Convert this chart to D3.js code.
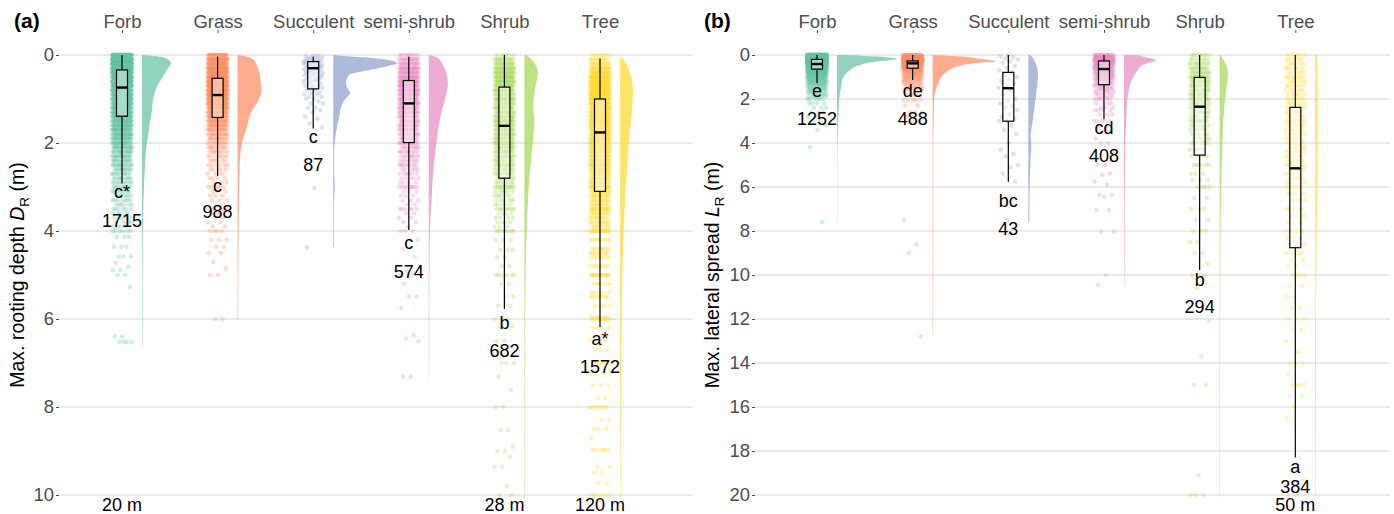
<!DOCTYPE html>
<html>
<head>
<meta charset="utf-8">
<script src="https://cdn.jsdelivr.net/npm/d3@7"></script>
<style>
  body { margin: 0; background: #fff; }
  svg { display: block; }
  text { font-family: "Liberation Sans", Arial, sans-serif; }
</style>
</head>
<body>
<svg id="chart" width="1394" height="514"></svg>
<script>
      const categories = ["Forb", "Grass", "Succulent", "semi-shrub", "Shrub", "Tree"];
      const groupColors = ["#66c2a5", "#fc8d62", "#8da0cb", "#e78ac3", "#a6d854", "#ffd92f"];

      // ---- panel (a): max. rooting depth (m) ----
      const depthTicks = [0, 2, 4, 6, 8, 10];
      // [lower whisker, q1, median, q3, upper whisker]
      const depthBoxes = [
        [0, 0.34, 0.74, 1.39, 2.92],
        [0.04, 0.53, 0.91, 1.42, 2.75],
        [0.04, 0.15, 0.30, 0.77, 1.67],
        [0.04, 0.58, 1.10, 1.99, 3.98],
        [0, 0.73, 1.61, 2.80, 5.77],
        [0.08, 1.00, 1.76, 3.10, 6.18]
      ];
      const depthLetters = ["c*", "c", "c", "c", "b", "a*"];
      const depthCounts = ["1715", "988", "87", "574", "682", "1572"];
      const depthLetterAt = [3.25, 3.11, 1.99, 4.42, 6.23, 6.59];
      const depthCountAt = [3.91, 3.71, 2.63, 5.07, 6.86, 7.23];
      const depthMaxima = ["20 m", "", "", "", "28 m", "120 m"];

      // observations as [depth, number of records]
      const depthPtsForb = [[0,80],[0.1,130],[0.2,140],[0.3,130],[0.4,115],[0.5,100],[0.6,88],[0.7,75],[0.8,65],[0.9,58],[1,54],[1.1,50],[1.2,49],[1.3,46],[1.4,43],[1.5,40],[1.6,37],[1.7,34],[1.8,31],[1.9,28],[2,25],[2.1,21],[2.2,19],[2.3,17],[2.4,15],[2.5,15],[2.6,12],[2.7,11],[2.8,10],[2.9,9],[3,10],[3.1,8],[3.2,7],[3.3,7],[3.4,6],[3.5,6],[3.6,5],[3.7,5],[3.8,4],[3.9,4],[4,6],[4.13,3],[4.36,3],[4.58,3],[4.73,1],[4.81,1],[4.89,2],[5,2],[5.27,1],[6.4,2],[6.52,4]];
      const depthPtsGrass = [[0,30],[0.1,43],[0.2,48],[0.3,54],[0.4,56],[0.5,59],[0.6,62],[0.7,64],[0.8,64],[0.9,62],[1,56],[1.1,48],[1.2,40],[1.3,35],[1.4,31],[1.5,28],[1.6,25],[1.7,21],[1.8,17],[1.9,15],[2,12],[2.1,10],[2.2,9],[2.3,7],[2.4,6],[2.5,6],[2.6,5],[2.7,4],[2.8,4],[2.9,3],[3,6],[3.1,3],[3.2,3],[3.3,3],[3.4,2],[3.5,4],[3.6,2],[3.7,2],[3.8,2],[3.9,2],[4,4],[4.2,3],[4.36,2],[4.5,2],[4.7,1],[4.85,1],[5,2],[6,2]];
      const depthPtsSucculent = [[0.02,3],[0.05,3],[0.08,3],[0.12,3],[0.15,4],[0.18,3],[0.22,4],[0.25,3],[0.28,3],[0.32,3],[0.35,3],[0.38,3],[0.42,3],[0.46,3],[0.5,3],[0.55,3],[0.6,3],[0.65,2],[0.7,3],[0.75,2],[0.8,2],[0.85,2],[0.9,2],[0.95,2],[1,2],[1.05,1],[1.1,2],[1.2,2],[1.25,1],[1.3,1],[1.4,1],[1.45,1],[1.55,1],[1.65,1],[3.03,1],[4.37,1]];
      const depthPtsSemiShrub = [[0,10],[0.1,17],[0.2,21],[0.3,25],[0.4,28],[0.5,29],[0.6,30],[0.7,30],[0.8,29],[0.9,27],[1,25],[1.1,23],[1.2,22],[1.3,20],[1.4,18],[1.5,17],[1.6,16],[1.7,15],[1.8,14],[1.9,12],[2,15],[2.1,10],[2.2,10],[2.3,9],[2.4,8],[2.5,9],[2.6,6],[2.7,6],[2.8,5],[2.9,4],[3,9],[3.1,3],[3.2,3],[3.3,3],[3.4,2],[3.5,6],[3.6,2],[3.7,2],[3.8,2],[3.9,1],[4,3],[4.2,2],[4.4,1],[4.58,1],[4.9,1],[5,2],[5.2,1],[5.49,2],[5.75,1],[6.36,1],[6.45,1],[6.5,1],[7.31,2]];
      const depthPtsShrub = [[0,6],[0.1,14],[0.2,18],[0.3,22],[0.4,26],[0.5,27],[0.6,25],[0.7,22],[0.8,20],[0.9,18],[1,24],[1.1,17],[1.2,17],[1.3,18],[1.4,19],[1.5,22],[1.6,19],[1.7,18],[1.8,18],[1.9,17],[2,22],[2.1,15],[2.2,14],[2.3,13],[2.4,12],[2.5,15],[2.6,10],[2.7,10],[2.8,9],[2.9,8],[3,14],[3.1,6],[3.2,6],[3.3,6],[3.4,5],[3.5,8],[3.6,4],[3.7,4],[3.8,4],[3.9,3],[4,8],[4.2,3],[4.43,3],[4.6,2],[4.8,2],[5,6],[5.2,2],[5.49,2],[5.7,2],[6,3],[6.17,2],[6.5,2],[6.63,1],[7,3],[7.31,1],[7.61,1],[8,2],[8.52,2],[8.9,1],[9,2],[9.13,1],[9.36,2],[9.8,1],[10,2]];
      const depthPtsTree = [[0,8],[0.1,12],[0.2,18],[0.3,25],[0.4,34],[0.5,50],[0.6,42],[0.7,46],[0.8,48],[0.9,47],[1,60],[1.1,45],[1.2,44],[1.3,42],[1.4,40],[1.5,48],[1.6,37],[1.7,35],[1.8,34],[1.9,32],[2,42],[2.1,29],[2.2,28],[2.3,27],[2.4,25],[2.5,32],[2.6,23],[2.7,22],[2.8,20],[2.9,19],[3,30],[3.1,17],[3.2,16],[3.3,15],[3.4,14],[3.5,20],[3.6,13],[3.7,12],[3.8,12],[3.9,11],[4,20],[4.2,10],[4.4,9],[4.5,10],[4.6,8],[4.8,8],[5,18],[5.2,6],[5.4,6],[5.5,8],[5.7,5],[5.95,5],[6,12],[6.2,4],[6.48,4],[6.7,3],[7,8],[7.23,3],[7.5,3],[7.8,2],[8,8],[8.3,2],[8.5,3],[8.7,1],[8.98,6],[9.36,2],[9.5,2],[9.73,2],[10,6]];

      // half-violin outlines as [depth, relative density]
      const depthDensForb = [[0,0],[0.02,1.2],[0.05,2.1],[0.12,2.7],[0.19,2.9],[0.3,2.6],[0.49,2.1],[0.72,1.5],[1.02,1.1],[1.25,1.0],[1.48,0.83],[1.78,0.65],[2.16,0.4],[2.5,0.3],[3.3,0.15],[4,0.08],[5,0.06],[6,0.05],[6.6,0.04],[6.62,0]];
      const depthDensGrass = [[0,0],[0.03,0.8],[0.11,1.6],[0.34,2.1],[0.6,2.3],[0.8,2.4],[1.02,2.1],[1.32,1.3],[1.63,0.94],[2,0.44],[2.54,0.2],[3.3,0.15],[4,0.1],[5,0.07],[6,0.05],[6.02,0]];
      const depthDensSucculent = [[0,0],[0.02,1.0],[0.04,2.4],[0.11,5.4],[0.19,6.4],[0.27,5.1],[0.34,3.6],[0.45,1.6],[0.64,1.27],[0.78,1.5],[0.87,1.7],[0.95,1.4],[1.1,0.93],[1.4,0.6],[1.78,0.27],[2.16,0.1],[2.6,0.08],[3,0.15],[3.4,0.06],[4,0.06],[4.35,0.08],[4.37,0]];
      const depthDensSemiShrub = [[0,0],[0.03,0.5],[0.05,0.8],[0.19,1.3],[0.42,1.77],[0.64,1.9],[0.87,1.77],[1.17,1.43],[1.48,1.1],[1.78,0.9],[2.16,0.67],[2.69,0.43],[3.3,0.27],[4.05,0.1],[5,0.06],[6,0.05],[7.35,0.03],[7.37,0]];
      const depthDensShrub = [[0,0.2],[0.11,0.77],[0.42,1.37],[0.72,1.1],[1.17,0.87],[1.48,1.0],[1.78,0.93],[2.16,0.77],[2.69,0.53],[3.45,0.33],[4.2,0.2],[5.34,0.1],[7,0.06],[10.5,0.04]];
      const depthDensTree = [[0.05,0],[0.08,0.23],[0.42,1.0],[0.8,1.3],[1.17,1.23],[1.93,0.9],[2.69,0.67],[3.45,0.47],[4.2,0.33],[4.96,0.23],[5.72,0.17],[7.23,0.1],[10.5,0.05]];

      // ---- panel (b): max. lateral spread (m) ----
      const spreadTicks = [0, 2, 4, 6, 8, 10, 12, 14, 16, 18, 20];
      const spreadBoxes = [
        [0, 0.20, 0.41, 0.64, 1.28],
        [0, 0.27, 0.38, 0.60, 1.14],
        [0, 0.79, 1.51, 3.01, 5.76],
        [0, 0.27, 0.64, 1.35, 2.92],
        [0, 1.02, 2.35, 4.55, 9.77],
        [0, 2.38, 5.15, 8.76, 18.3]
      ];
      const spreadLetters = ["e", "de", "bc", "cd", "b", "a"];
      const spreadCounts = ["1252", "488", "43", "408", "294", "384"];
      const spreadLetterAt = [1.92, 1.92, 6.89, 3.59, 10.5, 19.0];
      const spreadCountAt = [3.18, 3.18, 8.18, 4.85, 11.74, 19.92];
      const spreadMaxima = ["", "", "", "", "", "50 m"];

      const spreadPtsForb = [[0,130],[0.1,175],[0.2,175],[0.3,130],[0.4,90],[0.5,65],[0.6,50],[0.7,40],[0.8,32],[0.9,26],[1,25],[1.1,18],[1.2,16],[1.3,14],[1.4,12],[1.5,10],[1.6,8],[1.7,7],[1.8,6],[1.9,5],[2,6],[2.2,4],[2.4,3],[2.6,3],[2.8,2],[3,2],[3.2,1],[3.4,1],[4.2,1],[7.6,1]];
      const spreadPtsGrass = [[0,28],[0.1,60],[0.2,75],[0.3,80],[0.4,50],[0.5,36],[0.6,25],[0.7,20],[0.8,16],[0.9,14],[1,13],[1.1,10],[1.2,8],[1.3,7],[1.4,6],[1.5,6],[1.6,4],[1.8,4],[2.05,5],[2.3,2],[2.6,3],[2.8,1],[3,2],[7.5,1],[8.6,1],[9,1],[12.8,1]];
      const spreadPtsSucculent = [[0,1],[0.05,1],[0.1,1],[0.15,1],[0.2,1],[0.3,1],[0.35,1],[0.5,1],[0.6,1],[0.7,1],[0.8,1],[0.9,1],[1,1],[1.1,1],[1.2,1],[1.3,1],[1.4,1],[1.5,1],[1.6,1],[1.8,1],[2,1],[2.1,1],[2.2,1],[2.3,1],[2.4,1],[2.5,1],[2.7,1],[2.8,1],[2.9,1],[3,2],[3.2,1],[3.4,1],[3.6,1],[4,1],[4.3,1],[4.5,1],[4.6,1],[5,1],[5.1,1],[5.4,1],[5.76,1],[7.5,1]];
      const spreadPtsSemiShrub = [[0,20],[0.1,31],[0.2,35],[0.3,30],[0.4,23],[0.5,19],[0.6,17],[0.7,14],[0.8,13],[0.9,11],[1,12],[1.1,9],[1.2,8],[1.3,7],[1.4,7],[1.5,7],[1.6,5],[1.7,5],[1.8,4],[1.9,4],[2,6],[2.2,4],[2.4,3],[2.5,4],[2.7,3],[3,5],[3.3,2],[3.5,2],[3.8,1],[4,2],[4.5,1],[5,2],[5.38,1],[5.45,1],[5.76,1],[5.9,1],[6.36,2],[6.44,1],[7.05,2],[8.03,2],[10,1],[10.45,1]];
      const spreadPtsShrub = [[0,8],[0.2,8],[0.4,10],[0.6,12],[0.8,13],[1,16],[1.2,12],[1.4,12],[1.6,11],[1.8,11],[2,13],[2.2,9],[2.4,8],[2.6,7],[2.8,7],[3,9],[3.2,6],[3.4,5],[3.6,5],[3.8,5],[4,7],[4.3,4],[4.6,4],[5,6],[5.4,3],[5.7,3],[6,4],[6.5,2],[7,3],[7.5,2],[8,3],[8.5,2],[9,2],[9.5,1],[10,3],[10.6,1],[12.1,1],[13.7,1],[15,2],[19.1,1],[20,3]];
      const spreadPtsTree = [[0,6],[0.2,5],[0.4,6],[0.6,6],[0.8,6],[1,8],[1.2,6],[1.4,6],[1.6,6],[1.8,6],[2,8],[2.2,6],[2.4,6],[2.6,6],[2.8,5],[3,8],[3.2,5],[3.4,5],[3.6,5],[3.8,5],[4,7],[4.2,5],[4.4,5],[4.6,5],[4.8,5],[5,7],[5.2,4],[5.4,4],[5.6,4],[5.8,4],[6,6],[6.3,4],[6.6,4],[7,5],[7.3,3],[7.6,3],[8,5],[8.3,3],[8.6,3],[9,4],[9.3,2],[9.6,2],[10,4],[10.5,2],[11,2],[11.5,2],[12,3],[12.5,2],[13,1],[13.5,1],[14,3],[14.5,1],[15,4],[15.5,2],[16,1],[16.5,1],[18.3,1],[18.9,1],[19.3,1],[20,2]];

      const spreadDensForb = [[0,0],[0.01,1.5],[0.05,3.0],[0.1,5.0],[0.18,6.0],[0.22,5.6],[0.3,4.0],[0.45,2.3],[0.68,1.3],[0.9,0.8],[1.14,0.5],[1.44,0.43],[1.7,0.3],[2.2,0.2],[3,0.12],[3.5,0.08],[4.5,0.03],[7.6,0.02],[7.62,0]];
      const spreadDensGrass = [[0,0],[0.01,0.4],[0.07,3.0],[0.15,4.3],[0.3,6.4],[0.34,5.0],[0.41,3.6],[0.53,2.4],[0.76,1.4],[0.98,0.9],[1.3,0.57],[1.6,0.3],[2.05,0.13],[3.1,0.1],[4,0.05],[7.5,0.05],[12.8,0.03],[12.82,0]];
      const spreadDensSucculent = [[0,0],[0.02,0.23],[0.38,0.73],[0.83,0.97],[1.6,0.83],[2.35,0.63],[3.1,0.4],[3.7,0.23],[4.17,0.3],[4.62,0.23],[5.38,0.17],[6.14,0.13],[7.58,0.1],[7.6,0]];
      const spreadDensSemiShrub = [[0,0],[0.01,1.6],[0.07,1.9],[0.23,3.2],[0.45,1.9],[0.76,1.27],[1.14,0.77],[1.74,0.43],[2.5,0.27],[3.56,0.17],[5.08,0.1],[7,0.07],[10.45,0.04],[10.47,0]];
      const spreadDensShrub = [[0,0.07],[0.38,0.57],[0.83,0.83],[1.6,0.67],[2.35,0.47],[3.26,0.33],[4.3,0.27],[5.7,0.17],[7.65,0.1],[11.4,0.05],[20.5,0.03]];
      const spreadDensTree = [[0,0.17],[1.6,0.23],[3.9,0.23],[6.9,0.17],[9.9,0.1],[14.5,0.07],[20.5,0.05]];

      const svg = d3.select("#chart");
      const TOP = 55, BOTTOM = 495;

      function jitter(k) {
        return (((k * 0.6180339887 + 0.5) % 1) - 0.5) * 20;
      }

      function drawPanel(cfg) {
        const root = svg.append("g");
        const y = d3.scaleLinear().domain([0, cfg.max]).range([TOP, BOTTOM]);
        const x = d3.scalePoint().domain(categories).range(cfg.xRange);
        const dens = d3.scaleLinear().domain([0, 1]).range([0, 10]);
        const clipId = `clip-${cfg.id}`;

        root.append("clipPath").attr("id", clipId)
          .append("rect").attr("x", cfg.left).attr("y", 33)
          .attr("width", cfg.right - cfg.left).attr("height", BOTTOM + 3 - 33);

        root.append("g").selectAll("line")
          .data(cfg.ticks)
          .join("line")
          .attr("x1", cfg.left).attr("x2", cfg.right)
          .attr("y1", (d) => y(d)).attr("y2", (d) => y(d))
          .attr("stroke", "#d6d6d6").attr("stroke-width", 1);

        const yAxis = root.append("g")
          .attr("transform", `translate(${cfg.left},0)`)
          .call(d3.axisLeft(y).tickValues(cfg.ticks).tickSize(3).tickPadding(2));
        yAxis.select(".domain").remove();
        yAxis.selectAll("line").attr("stroke", "#4d4d4d");
        yAxis.selectAll("text").attr("fill", "#4d4d4d").style("font-size", "18.5px")
          .style("font-family", "'Liberation Sans', Arial, sans-serif");

        const xAxis = root.append("g")
          .attr("transform", "translate(0,33)")
          .call(d3.axisTop(x).tickSize(3).tickPadding(2));
        xAxis.select(".domain").remove();
        xAxis.selectAll("line").attr("stroke", "#4d4d4d");
        xAxis.selectAll("text").attr("fill", "#4d4d4d").style("font-size", "18.5px")
          .style("font-family", "'Liberation Sans', Arial, sans-serif");

        const plot = root.append("g").attr("clip-path", `url(#${clipId})`);

        // jittered observations
        const points = [];
        cfg.points.forEach((list, gi) => {
          let k = 0;
          list.forEach(([depth, n]) => {
            for (let i = 0; i < n; i += 1, k += 1) points.push({ gi, depth, k });
          });
        });
        plot.append("g").selectAll("circle")
          .data(points)
          .join("circle")
          .attr("cx", (p) => x(categories[p.gi]) + jitter(p.k))
          .attr("cy", (p) => y(p.depth))
          .attr("r", 2.3)
          .attr("fill", (p) => groupColors[p.gi])
          .attr("fill-opacity", 0.3);

        // half violins
        const area = d3.area()
          .curve(d3.curveMonotoneY)
          .y((d) => y(d[0]))
          .x0(0)
          .x1((d) => dens(d[1]));
        plot.append("g").selectAll("path")
          .data(cfg.densities)
          .join("path")
          .attr("transform", (d, i) => `translate(${x(categories[i]) + 20},0)`)
          .attr("d", (d) => area(d))
          .attr("fill", (d, i) => groupColors[i])
          .attr("fill-opacity", 0.72);

        // box plots
        const boxes = plot.append("g").selectAll("g")
          .data(cfg.boxes)
          .join("g")
          .attr("transform", (d, i) => `translate(${x(categories[i])},0)`);
        boxes.append("line").attr("x1", 0).attr("x2", 0)
          .attr("y1", (b) => y(b[0])).attr("y2", (b) => y(b[1]))
          .attr("stroke", "#000").attr("stroke-width", 1.2);
        boxes.append("line").attr("x1", 0).attr("x2", 0)
          .attr("y1", (b) => y(b[3])).attr("y2", (b) => y(b[4]))
          .attr("stroke", "#000").attr("stroke-width", 1.2);
        boxes.append("rect")
          .attr("x", -5.5).attr("width", 11)
          .attr("y", (b) => y(b[1])).attr("height", (b) => y(b[3]) - y(b[1]))
          .attr("fill", "#fff").attr("fill-opacity", 0.4)
          .attr("stroke", "#000").attr("stroke-width", 1.2);
        boxes.append("line").attr("x1", -5.5).attr("x2", 5.5)
          .attr("y1", (b) => y(b[2])).attr("y2", (b) => y(b[2]))
          .attr("stroke", "#000").attr("stroke-width", 2.4);

        // letters and sample sizes
        const notes = root.append("g")
          .attr("text-anchor", "middle")
          .style("font-size", "18px")
          .attr("fill", "#000");
        cfg.letters.forEach((t, i) => {
          notes.append("text").attr("x", x(categories[i])).attr("y", y(cfg.letterAt[i])).text(t);
          notes.append("text").attr("x", x(categories[i])).attr("y", y(cfg.countAt[i])).text(cfg.counts[i]);
          if (cfg.maxima[i]) {
            notes.append("text").attr("x", x(categories[i])).attr("y", BOTTOM + 16).text(cfg.maxima[i]);
          }
        });

        // axis title
        const title = root.append("text")
          .attr("transform", `translate(${cfg.titleX},${(TOP + BOTTOM) / 2}) rotate(-90)`)
          .attr("text-anchor", "middle")
          .style("font-size", "19.5px")
          .attr("fill", "#000");
        title.append("tspan").text(cfg.title + " ");
        title.append("tspan").style("font-style", "italic").text(cfg.symbol);
        title.append("tspan").attr("dy", 5).style("font-size", "13.5px").text("R");
        title.append("tspan").attr("dy", -5).text(" (m)");

        root.append("text")
          .attr("x", cfg.tagX).attr("y", 28)
          .style("font-size", "21px").style("font-weight", "bold")
          .text(cfg.tag);
      }

      drawPanel({
        id: "a", tag: "(a)", tagX: 14, titleX: 24,
        title: "Max. rooting depth", symbol: "D",
        left: 59, right: 693, xRange: [122, 600],
        max: 10, ticks: depthTicks,
        boxes: depthBoxes, letters: depthLetters, counts: depthCounts,
        letterAt: depthLetterAt, countAt: depthCountAt, maxima: depthMaxima,
        points: [depthPtsForb, depthPtsGrass, depthPtsSucculent, depthPtsSemiShrub, depthPtsShrub, depthPtsTree],
        densities: [depthDensForb, depthDensGrass, depthDensSucculent, depthDensSemiShrub, depthDensShrub, depthDensTree]
      });

      drawPanel({
        id: "b", tag: "(b)", tagX: 704, titleX: 719,
        title: "Max. lateral spread", symbol: "L",
        left: 755, right: 1390, xRange: [817, 1295.3],
        max: 20, ticks: spreadTicks,
        boxes: spreadBoxes, letters: spreadLetters, counts: spreadCounts,
        letterAt: spreadLetterAt, countAt: spreadCountAt, maxima: spreadMaxima,
        points: [spreadPtsForb, spreadPtsGrass, spreadPtsSucculent, spreadPtsSemiShrub, spreadPtsShrub, spreadPtsTree],
        densities: [spreadDensForb, spreadDensGrass, spreadDensSucculent, spreadDensSemiShrub, spreadDensShrub, spreadDensTree]
      });
</script>
</body>
</html>
